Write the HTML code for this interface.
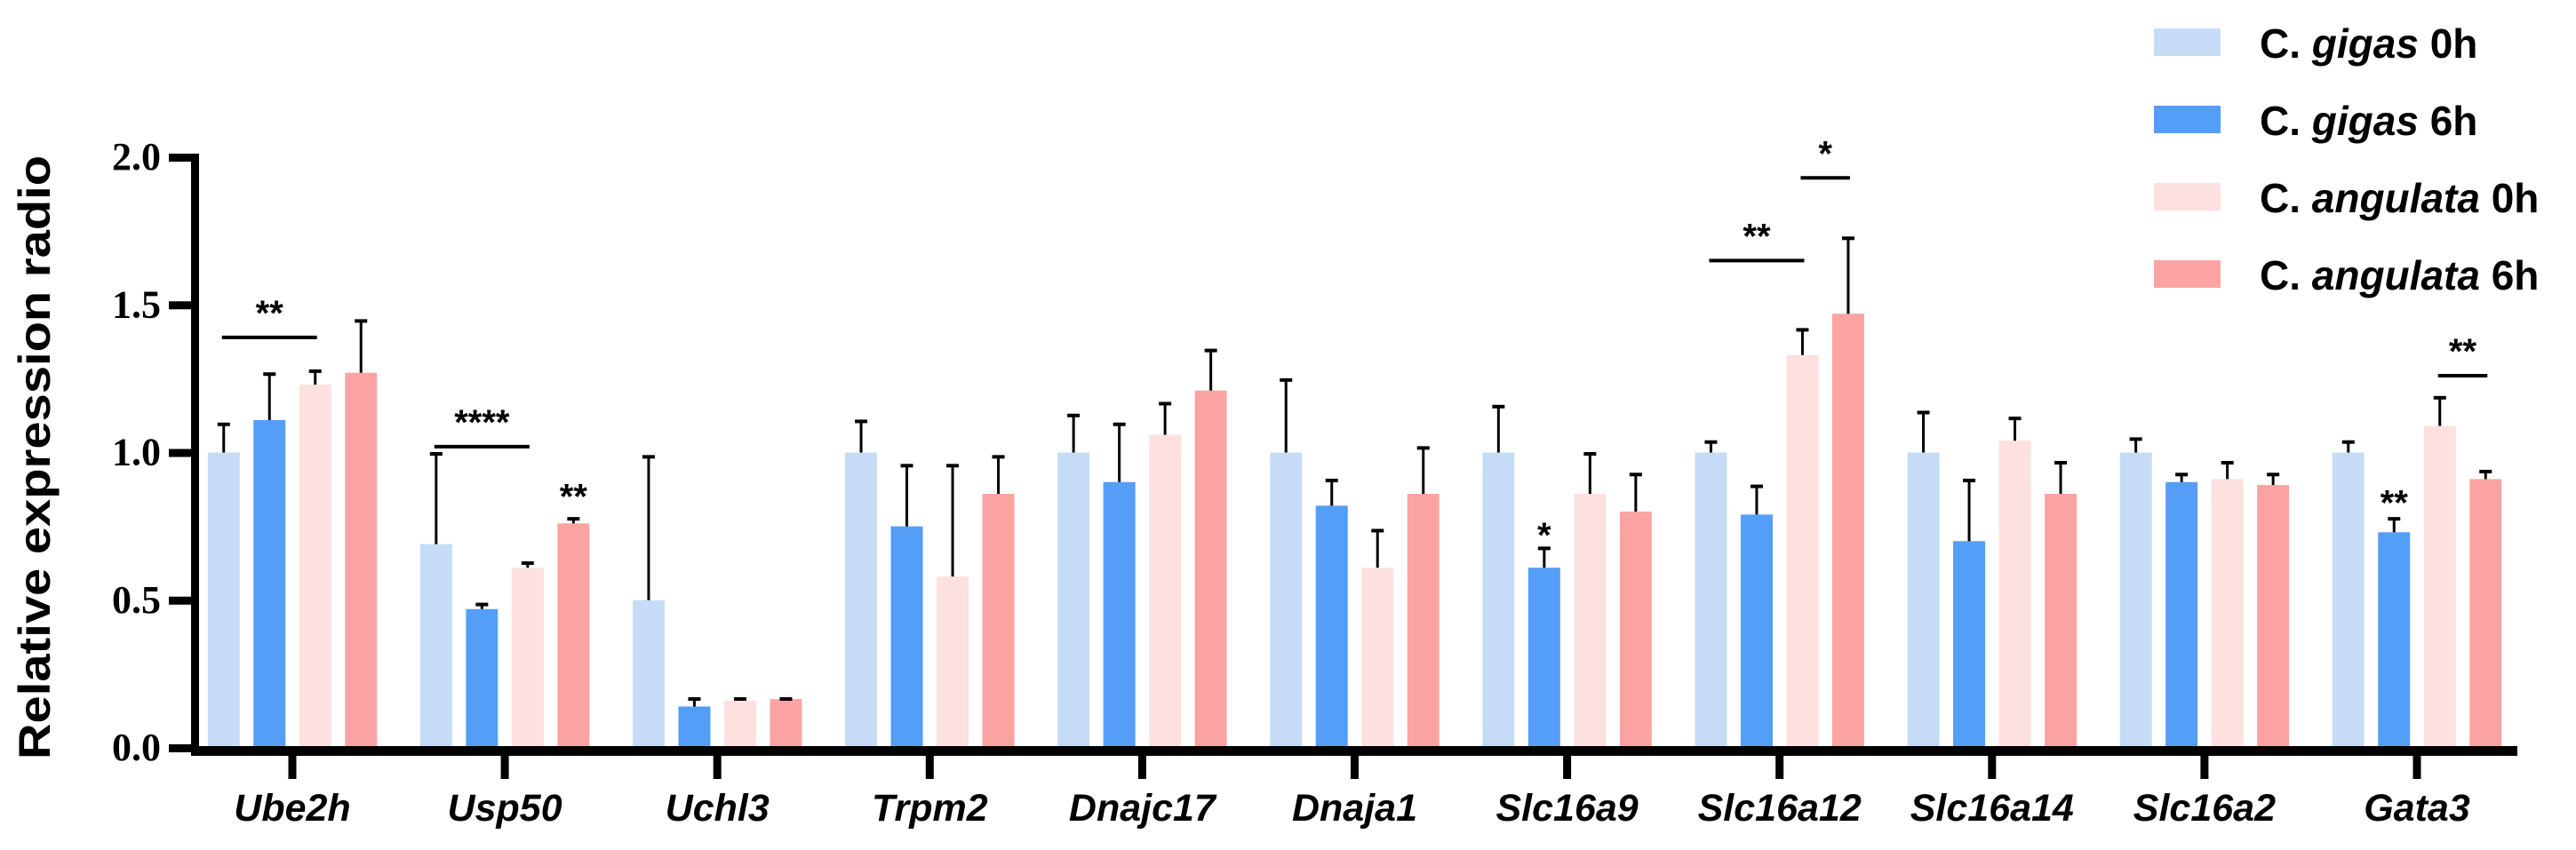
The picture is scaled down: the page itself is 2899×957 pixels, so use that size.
<!DOCTYPE html>
<html><head><meta charset="utf-8"><style>
body{margin:0;background:#fff;}
svg{display:block;}
</style></head><body>
<svg id="chart" width="2899" height="957" xmlns="http://www.w3.org/2000/svg"></svg>
<script>
const categories=["Ube2h","Usp50","Uchl3","Trpm2","Dnajc17","Dnaja1","Slc16a9","Slc16a12","Slc16a14","Slc16a2","Gata3"];
const seriesNames=["C. gigas 0h","C. gigas 6h","C. angulata 0h","C. angulata 6h"];
const gigas0=[1.0,0.69,0.50,1.0,1.0,1.0,1.0,1.0,1.0,1.0,1.0];
const gigas0Err=[1.10,1.0,0.99,1.11,1.13,1.25,1.16,1.04,1.14,1.05,1.04];
const gigas6=[1.11,0.47,0.14,0.75,0.90,0.82,0.61,0.79,0.70,0.90,0.73];
const gigas6Err=[1.27,0.49,0.17,0.96,1.10,0.91,0.68,0.89,0.91,0.93,0.78];
const angulata0=[1.23,0.61,0.16,0.58,1.06,0.61,0.86,1.33,1.04,0.91,1.09];
const angulata0Err=[1.28,0.63,0.17,0.96,1.17,0.74,1.0,1.42,1.12,0.97,1.19];
const angulata6=[1.27,0.76,0.165,0.86,1.21,0.86,0.80,1.47,0.86,0.89,0.91];
const angulata6Err=[1.45,0.78,0.17,0.99,1.35,1.02,0.93,1.73,0.97,0.93,0.94];
const yTicks=[0,0.5,1.0,1.5,2.0];
const yTickLabels=["0.0","0.5","1.0","1.5","2.0"];
// significance: [category index, from series, to series, line value, label]
const sigLines=[[0,0,2,1.39,"**"],[1,0,2,1.02,"****"],[7,0,2,1.65,"**"],[7,2,3,1.93,"*"],[10,2,3,1.26,"**"]];
// significance marks above a single bar: [category, series, value, label]
const sigMarks=[[1,3,0.84,"**"],[6,1,0.71,"*"],[10,1,0.82,"**"]];

const colors=["#c6dcf6","#549ef7","#fde0e0","#fba3a3"];
const values=[gigas0,gigas6,angulata0,angulata6];
const errs=[gigas0Err,gigas6Err,angulata0Err,angulata6Err];
const svg=document.getElementById('chart');
const NS="http://www.w3.org/2000/svg";
const Y0=842,Y2=177,AX=219;
function y(v){return Y0-(Y0-Y2)*v/2;}
function gx(i){return 329+239.1*i;}
function bx(i,s){return gx(i)+(s-1.5)*51.5;}
function mk(tag,attrs,parent){const e=document.createElementNS(NS,tag);for(const k in attrs)e.setAttribute(k,attrs[k]);(parent||svg).appendChild(e);return e;}

values.forEach((arr,s)=>{
  arr.forEach((v,i)=>{
    const c=bx(i,s);
    const r=mk('rect',{x:c-18,y:y(v),width:36,height:Y0-y(v),fill:colors[s]});
    
    
    const e=errs[s][i];
    const l=mk('line',{x1:c,x2:c,y1:y(v),y2:y(e),stroke:'#000','stroke-width':3});
    
    
    const cp=mk('line',{x1:c-7,x2:c+7,y1:y(e)+1.5,y2:y(e)+1.5,stroke:'#000','stroke-width':4});
    
    
  });
});
const ya=mk('rect',{x:AX-4,y:Y2-4,width:9,height:Y0-Y2+10,fill:'#000'});


const xa=mk('rect',{x:AX-4,y:Y0-2,width:2837-AX,height:11,fill:'#000'});


yTicks.forEach((t,k)=>{
  const tk=mk('rect',{x:190,y:y(t)-4,width:AX-190,height:9,fill:'#000'});
  
  
  const tl=mk('text',{x:181,y:y(t)+14,'text-anchor':'end','font-family':'Liberation Serif, serif','font-size':44,'font-weight':'bold'});
  tl.textContent=yTickLabels[k];
  
  
});
categories.forEach((c,i)=>{
  const tk=mk('rect',{x:gx(i)-4.5,y:Y0+8,width:9,height:27,fill:'#000'});
  
  
  const tl=mk('text',{x:gx(i),y:924,'text-anchor':'middle','font-family':'Liberation Sans, sans-serif','font-size':43,'font-weight':'bold','font-style':'italic'});
  tl.textContent=c;
  
  
});
const yt=mk('text',{x:0,y:0,transform:'translate(56,515) rotate(-90)','text-anchor':'middle','font-family':'Liberation Sans, sans-serif','font-size':50,'font-weight':'bold',textLength:680,lengthAdjust:'spacingAndGlyphs'});
yt.textContent='Relative expression radio';


sigLines.forEach(s=>{
  const x1=bx(s[0],s[1]),x2=bx(s[0],s[2]);
  const l=mk('line',{x1:x1-2,x2:x2+2,y1:y(s[3]),y2:y(s[3]),stroke:'#000','stroke-width':4});
  
  
  const t=mk('text',{x:(x1+x2)/2,y:y(s[3])-14,'text-anchor':'middle','font-family':'Liberation Sans, sans-serif','font-size':40,'font-weight':'bold'});
  t.textContent=s[4];
  
  
});
sigMarks.forEach(s=>{
  const t=mk('text',{x:bx(s[0],s[1]),y:y(s[2])+10,'text-anchor':'middle','font-family':'Liberation Sans, sans-serif','font-size':40,'font-weight':'bold'});
  t.textContent=s[3];
  
  
});
seriesNames.forEach((n,s)=>{
  const ry=32+87*s;
  const sq=mk('rect',{x:2424,y:ry,width:75,height:31,fill:colors[s]});
  
  
  const parts=n.split(' ');
  const t=mk('text',{x:2543,y:ry+33,'font-family':'Liberation Sans, sans-serif','font-size':46,'font-weight':'bold'});
  
  
  const a=mk('tspan',{},t);a.textContent=parts[0]+' ';
  const b=mk('tspan',{'font-style':'italic'},t);b.textContent=parts[1];
  const c=mk('tspan',{},t);c.textContent=' '+parts[2];
});
</script>
</body></html>
